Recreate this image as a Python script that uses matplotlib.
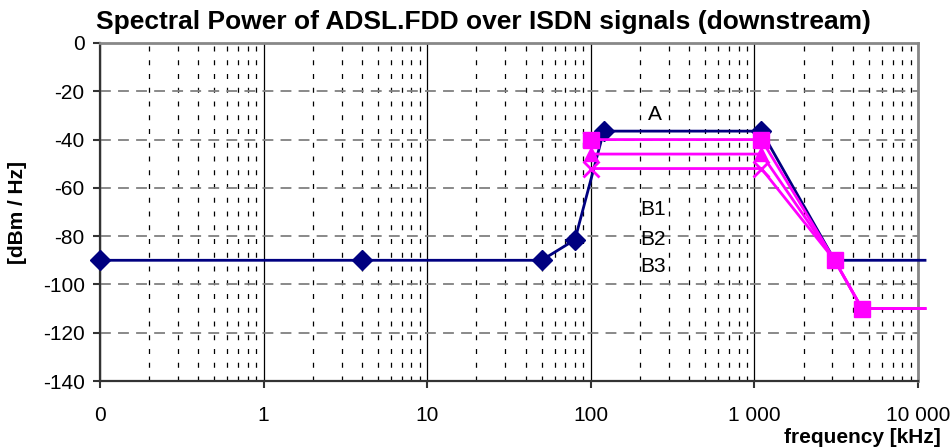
import matplotlib.pyplot as plt
import matplotlib.ticker as mticker

plt.rcParams['font.family'] = ['Liberation Sans', 'DejaVu Sans']
plt.rcParams['axes.unicode_minus'] = False

# PSD mask A (kHz, dBm/Hz)
freq_a = [0.1, 4, 50, 80, 120, 1104, 3093, 11040]
psd_a = [-90, -90, -90, -81.5, -36.5, -36.5, -90, -90]

# PSD masks B1..B3 share the stopband corner points
freq_b = [100, 1104, 3093, 4545, 11040]
psd_b1 = [-40, -40, -90, -110, -110]
psd_b2 = [-46, -46, -90, -110, -110]
psd_b3 = [-52, -52, -90, -110, -110]

xtick_vals = [0.1, 1, 10, 100, 1000, 10000]
xtick_labels = ['0', '1', '10', '100', '1 000', '10 000']
ytick_vals = [0, -20, -40, -60, -80, -100, -120, -140]

# text labels placed next to the curves
label_text = ['A', 'B1', 'B2', 'B3']
label_x = [245, 240, 240, 240]
label_y = [-29.8, -69, -81.5, -92.5]

fig = plt.figure(figsize=(9.51, 4.48), dpi=100)
ax = fig.add_axes([100/951, 1-381/448, 818/951, 338/448])

ax.set_xscale('log')
ax.set_xlim(0.1, 10000)
ax.set_ylim(-140, 0)

magenta = '#FF00FF'
navy = '#000080'

ax.plot(freq_a, psd_a, color=navy, lw=2, marker='D', ms=10, markevery=[0, 1, 2, 3, 4, 5],
        clip_on=False, zorder=3)
ax.plot(freq_b, psd_b3, color=magenta, lw=2, marker='x', ms=11, mew=2,
        markevery=[0, 1], clip_on=False, zorder=4)
ax.plot(freq_b, psd_b2, color=magenta, lw=2, marker='^', ms=10,
        markevery=[0, 1], clip_on=False, zorder=4)
ax.plot(freq_b, psd_b1, color=magenta, lw=2, marker='s', ms=11,
        markevery=[0, 1, 2, 3], clip_on=False, zorder=5)

for t, x, y in zip(label_text, label_x, label_y):
    ax.text(x, y, t, fontsize=15, ha='center', va='center', zorder=6)

# grid: dashed grey horizontals, solid decades, dashed minor verticals
ax.set_yticks(ytick_vals)
ax.set_xticks(xtick_vals)
ax.set_xticklabels(xtick_labels)
ax.xaxis.set_minor_locator(mticker.LogLocator(base=10, subs=range(2, 10)))
ax.xaxis.set_minor_formatter(mticker.NullFormatter())
ax.grid(axis='y', which='major', color='#808080', ls=(0, (6, 4)), lw=1.3)
ax.grid(axis='x', which='major', color='black', ls='-', lw=0.9)
ax.grid(axis='x', which='minor', color='black', ls=(0, (4, 7)), lw=0.9)
ax.set_axisbelow(True)

ax.tick_params(axis='both', which='major', direction='out', length=5, width=1.5,
               labelsize=15, color='#333333')
ax.tick_params(axis='x', which='minor', length=0)
ax.tick_params(axis='x', pad=13)
ax.tick_params(axis='y', pad=6)

for s in ['left', 'bottom']:
    ax.spines[s].set_color('#333333')
    ax.spines[s].set_linewidth(1.6)
for s in ['top', 'right']:
    ax.spines[s].set_color('#888888')
    ax.spines[s].set_linewidth(2)

fig.text(96/951, 1-22/448, 'Spectral Power of ADSL.FDD over ISDN signals (downstream)',
         fontsize=19, fontweight='bold', ha='left', va='center')
fig.text(18/951, 1-212/448, '[dBm / Hz]', fontsize=15, fontweight='bold',
         rotation=90, ha='center', va='center')
fig.text(941/951, 1-437/448, 'frequency [kHz]', fontsize=15, fontweight='bold',
         ha='right', va='center')

fig.savefig('out.png', dpi=100)
